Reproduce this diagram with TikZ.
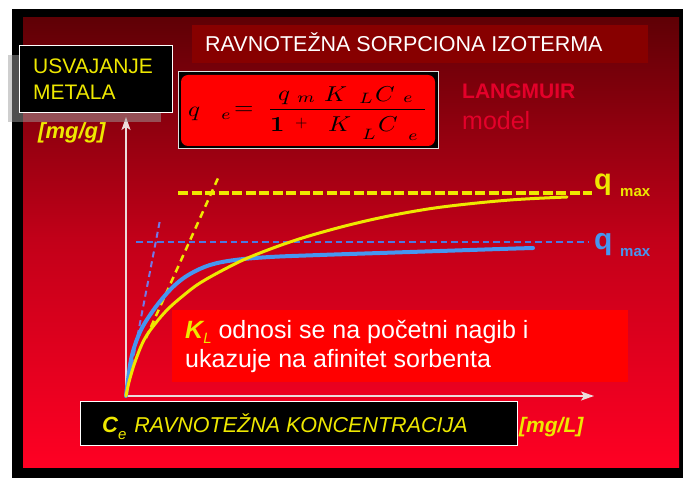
\documentclass[tikz,border=0pt]{standalone}
\usepackage[no-math]{fontspec}
\setmainfont{Liberation Sans}
\usepackage{amsmath}
\usepackage{graphicx}
\usepackage{xcolor}
\usetikzlibrary{arrows.meta}

\definecolor{bgdark}{RGB}{95,0,5}
\definecolor{bgmid}{RGB}{195,0,25}
\definecolor{bglight}{RGB}{255,0,35}
\definecolor{banner}{RGB}{135,0,0}
\definecolor{qyellow}{RGB}{238,232,0}
\definecolor{curveblue}{RGB}{70,150,240}
\definecolor{dashblue}{RGB}{75,120,225}
\definecolor{tanblue}{RGB}{115,120,230}
\definecolor{langred}{RGB}{228,0,42}
\definecolor{axisgray}{RGB}{235,220,220}

\newcommand{\eqsym}[1]{\scalebox{2.5}[2.15]{$#1$}}

\begin{document}
\begin{tikzpicture}[x=1pt, y=-1pt,
        lbl/.style={inner sep=0pt, anchor=base west},
        blackbox/.style={draw=white, fill=black, line width=0.8pt, inner sep=0pt},
        curve/.style={line width=3pt, line cap=round},
        qdash/.style={line width=3.5pt, dash pattern=on 10pt off 3.5pt}]
    \useasboundingbox (0,0) rectangle (683,478);

    % frame and background
    \fill[black] (12,9) rectangle (683,478);
    \shade[top color=bgdark, bottom color=bglight, middle color=bgmid] (23,18) rectangle (679,467);

    % title
    \fill[banner] (192,25) rectangle (648,63);
    \node[lbl, text=white, font=\fontsize{21.5}{24}\selectfont] (title) at (205,52) {RAVNOTEŽNA SORPCIONA IZOTERMA};

    % formula, symbol by symbol
    \draw[white!75!gray, fill=black, line width=1pt] (178,72) rectangle (438,149);
    \fill[red, rounded corners=7pt] (181,75) rectangle (435,146);
    \foreach \s/\x/\y [count=\i] in {q/188/117, {\scriptstyle e}/221/120, =/234/115,
            q/278/101, {\scriptstyle m}/297/103, K/324/102, {\scriptstyle L}/359/104, C/375/102, {\scriptstyle e}/403/103,
            \mathbf{1}/270/132, K/328/132, {\scriptstyle L}/362/140, C/378/132, {\scriptstyle e}/408/141}
        \node[lbl] (eq\i) at (\x,\y) {\eqsym{\s}};
    \node[lbl] (eqplus) at (295,128) {\scalebox{1.6}{$+$}};
    \coordinate (barl) at (270,109.5);
    \coordinate (barr) at (425,109.5);
    \draw[line width=1.3pt] (barl) -- (barr);

    \node[lbl, text=langred, font=\bfseries\fontsize{21}{24}\selectfont] (lang) at (462,99) {LANGMUIR};
    \node[lbl, text=langred, font=\fontsize{25}{28}\selectfont] (model) at (462,130) {model};

    % axes
    \coordinate (O) at (126,396);
    \coordinate (ytip) at (126,117);
    \coordinate (xtip) at (594,396);
    \draw[axisgray, line width=1.5pt, -{Stealth[length=13pt, width=9pt, inset=3pt]}] (O) -- (ytip);
    \draw[axisgray, line width=1.5pt, -{Stealth[length=13pt, width=9pt, inset=3pt]}] (O) -- (xtip);

    % y label
    \fill[gray!75, opacity=0.5] (8,55) rectangle (161,122);
    \node[blackbox, minimum width=153pt, minimum height=67pt] (usvbox) at (95.5,78.5) {};
    \node[lbl, text=qyellow, font=\fontsize{21}{24}\selectfont] (usv) at (33,74) {USVAJANJE};
    \node[lbl, text=qyellow, font=\fontsize{21}{24}\selectfont] (met) at (33,100) {METALA};
    \node[lbl, text=qyellow, font=\bfseries\itshape\fontsize{22}{24}\selectfont] (ylab) at (38,139) {[mg/g]};

    % q max levels
    \node[lbl, text=qyellow, font=\bfseries\fontsize{29}{30}\selectfont] (qy) at (594,190) {q};
    \node[lbl, text=qyellow, font=\bfseries\fontsize{15}{16}\selectfont] (maxy) at (620,197) {max};
    \node[lbl, text=curveblue, font=\bfseries\fontsize{30}{30}\selectfont] (qb) at (594,250) {q};
    \node[lbl, text=curveblue, font=\bfseries\fontsize{15}{16}\selectfont] (maxb) at (620,257) {max};
    \coordinate (ys) at (178,193);
    \coordinate (ye) at (592,193);
    \coordinate (bs) at (136,242);
    \coordinate (be) at (588,242);
    \draw[qdash, qyellow] (ys) -- (ye);
    \draw[dashblue, line width=2pt, dash pattern=on 6.5pt off 4pt] (bs) -- (be);

    % initial slopes
    \coordinate (yt0) at (146,338);
    \coordinate (yt1) at (219,176);
    \coordinate (bt0) at (128,385);
    \coordinate (bt1) at (160,220);
    \draw[qyellow, line width=2.5pt, dash pattern=on 7pt off 5pt] (yt0) -- (yt1);
    \draw[tanblue, line width=2pt, dash pattern=on 6pt off 4pt] (bt0) -- (bt1);

    % isotherms
    \draw[curve, curveblue, line width=4pt] plot[smooth, tension=0.6] coordinates {(126,396) (128,380) (132,355)
        (140,332) (150,315) (162,299) (175,285) (190,274) (210,265) (235,260) (270,257) (320,255)
        (380,253) (440,251) (500,249) (533,248)};
    \draw[curve, qyellow] plot[smooth, tension=0.6] coordinates {(126,396) (129,382) (135,362) (144,340)
        (155,324) (168,309) (184,295) (200,283) (225,269) (250,257) (290,242) (330,230) (370,220)
        (410,212) (450,206) (510,200) (567,197)};

    % note
    \fill[red] (172,310) rectangle (628,382);
    \node[lbl, text=white, font=\fontsize{25}{28}\selectfont] (kl1) at (185,339)
        {\textcolor{qyellow}{\bfseries\itshape K\raisebox{-5pt}{\mdseries\fontsize{15}{15}\selectfont L}}\ odnosi se na početni nagib i};
    \node[lbl, text=white, font=\fontsize{25}{28}\selectfont] (kl2) at (185,367) {ukazuje na afinitet sorbenta};

    % x label
    \node[blackbox, minimum width=437pt, minimum height=44pt] (cebox) at (298.5,423) {};
    \node[lbl, text=qyellow] (ce) at (102,432)
        {\fontsize{22}{24}\selectfont\bfseries\itshape C\raisebox{-7pt}{\mdseries\fontsize{15}{15}\selectfont e}\hspace{8pt}\fontsize{21.5}{24}\selectfont\mdseries RAVNOTEŽNA KONCENTRACIJA};
    \node[lbl, text=qyellow, font=\bfseries\itshape\fontsize{21}{24}\selectfont] (xlab) at (519,432) {[mg/L]};
\end{tikzpicture}
\end{document}
